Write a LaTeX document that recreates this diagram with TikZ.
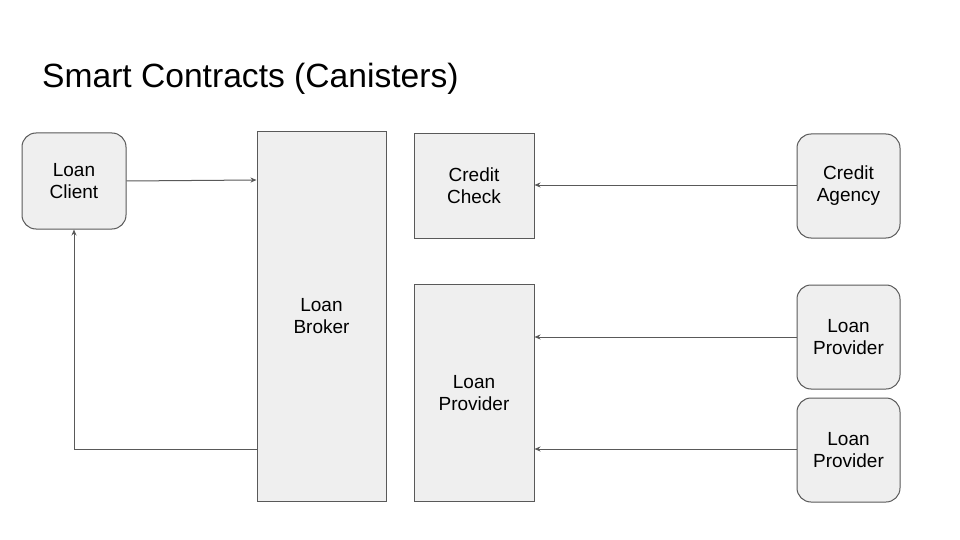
\documentclass[tikz,border=0pt]{standalone}
\usepackage{fontspec}
\setmainfont{Liberation Sans}
\usetikzlibrary{arrows.meta}
\definecolor{boxfill}{HTML}{EFEFEF}
\definecolor{edge}{HTML}{595959}
\tikzset{
  box/.style={draw=edge, fill=boxfill, line width=1pt, inner sep=0pt, align=center, font=\fontsize{19}{22}\selectfont},
  rbox/.style={box, rounded corners=14pt},
  conn/.style={draw=edge, line width=1pt, -{Stealth[length=6pt,width=5pt]}}
}
\begin{document}
\begin{tikzpicture}[x=1pt,y=-1pt]
\useasboundingbox[fill=white] (0,0) rectangle (960,540);
\node[anchor=base west, inner sep=0pt, font=\fontsize{33.6}{40}\selectfont] (title) at (42,88) {Smart Contracts (Canisters)};
\node[rbox, minimum width=104pt, minimum height=96pt] (client) at (74,181) {Loan\\Client};
\node[box, minimum width=129pt, minimum height=369pt] (broker) at (321.5,316.5) {Loan\\Broker};
\node[box, minimum width=120pt, minimum height=104pt] (check) at (474,186) {Credit\\Check};
\node[rbox, minimum width=103pt, minimum height=104pt] (agency) at (848.5,186) {Credit\\Agency};
\node[box, minimum width=120pt, minimum height=217pt] (prov) at (474,393) {Loan\\Provider};
\node[rbox, minimum width=103pt, minimum height=104pt] (lp1) at (848.5,337) {Loan\\Provider};
\node[rbox, minimum width=103pt, minimum height=104pt] (lp2) at (848.5,450) {Loan\\Provider};
\draw[conn] (client.east |- 0,181) -- (broker.west |- 0,180);
\draw[conn] (broker.west |- 0,449) -| (client.south);
\draw[conn] (agency.west |- 0,185) -- (check.east |- 0,185);
\draw[conn] (lp1.west |- 0,337) -- (prov.east |- 0,337);
\draw[conn] (lp2.west |- 0,449) -- (prov.east |- 0,449);
\end{tikzpicture}
\end{document}
